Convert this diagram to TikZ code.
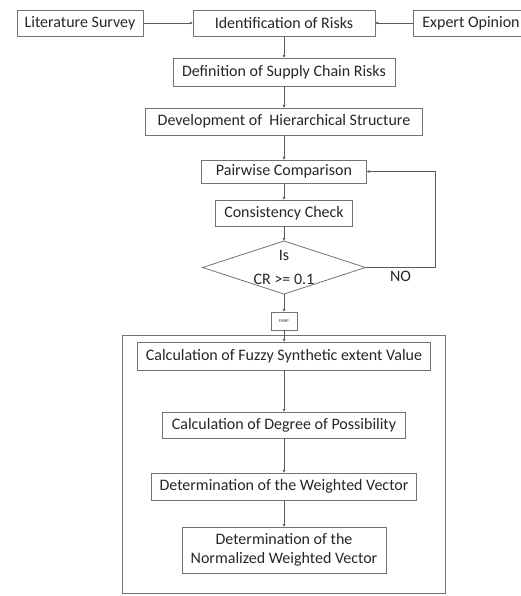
\documentclass[tikz,border=0pt]{standalone}
\usepackage{fontspec}
\setmainfont{Carlito}
\usepackage{xcolor}
\usepackage{tikz}
\usetikzlibrary{shapes.geometric,arrows.meta,positioning}

\begin{document}
\begin{tikzpicture}[
    x=1pt, y=1pt,
    step box/.style={rectangle, draw=black!55, line width=0.8pt, text=black!85, minimum height=26pt, inner sep=1pt, outer sep=0pt, font=\fontsize{16}{19}\selectfont},
    decision/.style={diamond, draw=black!55, line width=0.8pt, text=black!85, aspect=3.1, inner sep=-3.5pt, outer sep=0pt, minimum width=163pt, minimum height=53pt, align=center, font=\fontsize{16}{24}\selectfont},
    flow/.style={-{Latex[length=3pt,width=3pt]}, draw=black!65, line width=0.7pt},
    every node/.style={align=center}
]
\useasboundingbox (0,0) rectangle (521,-596);

% Inputs
\node[step box, minimum width=182pt] (ident) at (284,-23) {Identification of Risks};
\node[step box, minimum width=126pt] (lit) [left=50pt of ident] {Literature Survey};
\node[step box, minimum width=116pt] (expert) [right=38pt of ident] {Expert Opinion};

% AHP part
\node[step box, minimum width=222pt, minimum height=28pt] (define) [below=22pt of ident] {Definition of Supply Chain Risks};
\node[step box, minimum width=277pt, minimum height=27pt] (hier) [below=22pt of define] {Development of~~Hierarchical Structure};
\node[step box, minimum width=165pt, minimum height=23pt] (pair) [below=25pt of hier] {Pairwise Comparison};
\node[step box, minimum width=137pt] (consist) [below=17pt of pair] {Consistency Check};
\node[decision] (cr) [below=15pt of consist] {Is\\CR >= 0.1};
\node[step box, minimum width=26pt, minimum height=18pt, font=\fontsize{4.5}{5}\selectfont] (fahp) [below=18pt of cr] {FAHP};

% FAHP part
\node[rectangle, draw=black!55, line width=0.8pt, outer sep=0pt, minimum width=323pt, minimum height=258pt] (frame) [below=5pt of fahp] {};
\node[step box, minimum width=293pt, minimum height=28pt] (fuzzy) [below=7pt of frame.north] {Calculation of Fuzzy Synthetic extent Value};
\node[step box, minimum width=243pt] (possib) [below=42pt of fuzzy] {Calculation of Degree of Possibility};
\node[step box, minimum width=265pt, minimum height=27pt] (weight) [below=35pt of possib] {Determination of the Weighted Vector};
\node[step box, minimum width=204pt, minimum height=46pt] (norm) [below=27pt of weight] {Determination of the\\Normalized Weighted Vector};

% Connectors
\draw[flow] (lit) -- (ident);
\draw[flow] (expert) -- (ident);
\draw[flow] (ident) -- (define);
\draw[flow] (define) -- (hier);
\draw[flow] (hier) -- (pair);
\draw[flow] (pair) -- (consist);
\draw[flow] (consist) -- (cr);
% loop back when CR too large
\draw[flow] (cr.east) -- node[below, pos=0.5, font=\fontsize{16}{19}\selectfont, text=black!85] {NO} ++(70pt,0) |- (pair.east);
\draw[flow] (cr) -- (fahp);
\draw[flow] (fahp) -- (fuzzy);
\draw[flow] (fuzzy) -- (possib);
\draw[flow] (possib) -- (weight);
\draw[flow] (weight) -- (norm);

\end{tikzpicture}
\end{document}
